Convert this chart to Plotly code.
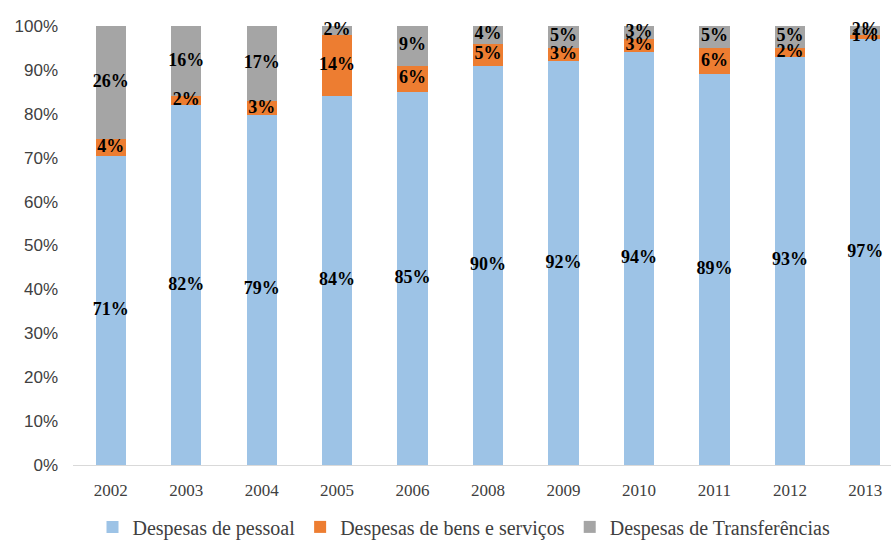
import plotly.graph_objects as go

years = ["2002", "2003", "2004", "2005", "2006", "2008", "2009", "2010", "2011", "2012", "2013"]
pessoal = [71, 82, 79, 84, 85, 90, 92, 94, 89, 93, 97]
bens = [4, 2, 3, 14, 6, 5, 3, 3, 6, 2, 1]
transf = [26, 16, 17, 2, 9, 4, 5, 3, 5, 5, 2]

names = ["Despesas de pessoal", "Despesas de bens e serviços", "Despesas de Transferências"]
colors = ["#9DC3E6", "#ED7D31", "#A5A5A5"]
data = [pessoal, bens, transf]

fig = go.Figure()
for name, vals, color in zip(names, data, colors):
    fig.add_trace(go.Bar(
        x=years, y=vals, name=name,
        marker=dict(color=color, line=dict(width=0)),
        hoverinfo="x+y+name",
    ))

# data labels: centred in each normalised segment
totals = [sum(t) for t in zip(*data)]
base = [0.0] * len(years)
lx, ly, lt = [], [], []
for vals in data:
    for i, v in enumerate(vals):
        h = v / totals[i] * 100
        lx.append(years[i])
        ly.append(base[i] + h / 2)
        lt.append(f"{v}%")
        base[i] += h
fig.add_trace(go.Scatter(
    x=lx, y=ly, text=lt, mode="text", textposition="middle center",
    textfont=dict(family="Liberation Serif", size=18, color="#000000", weight="bold"),
    showlegend=False, hoverinfo="skip", cliponaxis=False,
))

fig.update_layout(
    barmode="stack",
    barnorm="percent",
    bargap=0.6,
    width=891, height=540,
    margin=dict(l=73, r=0, t=26, b=75, autoexpand=False),
    paper_bgcolor="white",
    plot_bgcolor="white",
    showlegend=True,
    legend=dict(
        orientation="h", x=0.478, xanchor="center", y=-0.141, yanchor="middle",
        font=dict(family="Liberation Serif", size=20, color="#404040"),
        itemwidth=30, traceorder="normal",
    ),
    xaxis=dict(
        type="category", range=[-0.5, 10.34], automargin=False,
        showline=True, linecolor="#D9D9D9", linewidth=1,
        ticks="", showgrid=False, ticklabelstandoff=10,
        tickfont=dict(family="Liberation Serif", size=17, color="#404040"),
    ),
    yaxis=dict(
        range=[0, 100], dtick=10, ticksuffix="%", automargin=False,
        showgrid=False, showline=False, zeroline=False, ticks="",
        ticklabelstandoff=14,
        tickfont=dict(family="Liberation Sans", size=17, color="#404040"),
    ),
)

fig.write_html("out.html")
